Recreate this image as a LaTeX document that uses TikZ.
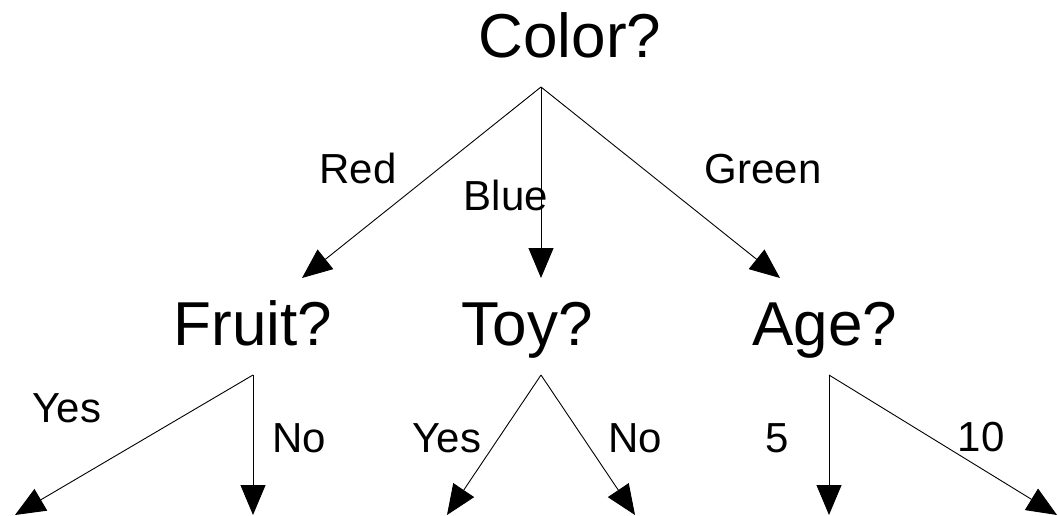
\documentclass[tikz,border=0pt]{standalone}
\usepackage{fontspec}
\setmainfont{Liberation Sans}
\usetikzlibrary{arrows.meta}
\begin{document}
\begin{tikzpicture}[x=1pt,y=-1pt,
  big/.style={anchor=base,inner sep=0pt,font=\fontsize{62}{70}\selectfont},
  lbl/.style={anchor=base,inner sep=0pt,font=\fontsize{42}{48}\selectfont},
  conn/.style={line width=0.9pt,-{Triangle[length=30pt,width=25pt]}}]
\useasboundingbox (0,0) rectangle (1058,516);
% question nodes
\node[big] (color) at (570,58) {Color?};
\node[big] (fruit) at (253,345) {Fruit?};
\node[big] (toy) at (527,345) {Toy?};
\node[big] (age) at (825,345) {Age?};
% labels
\node[lbl] (red) at (358,183) {Red};
\node[lbl] (blue) at (506,211) {Blue};
\node[lbl] (green) at (763,183) {Green};
\node[lbl] (yes1) at (67,422) {Yes};
\node[lbl] (no1) at (299,452) {No};
\node[lbl] (yes2) at (447,452) {Yes};
\node[lbl] (no2) at (635,452) {No};
\node[lbl] (five) at (777,452) {5};
\node[lbl] (ten) at (981,451) {10};
% connector ends
\coordinate (cS) at (541,87);
\coordinate (fT) at (302,278);
\coordinate (tT) at (541,278);
\coordinate (aT) at (780,278);
\coordinate (fS) at (253,375);
\coordinate (tS) at (541,375);
\coordinate (aS) at (829,375);
\coordinate (l1) at (15,515);
\coordinate (l2) at (253,515);
\coordinate (l3) at (447,515);
\coordinate (l4) at (635,515);
\coordinate (l5) at (829,515);
\coordinate (l6) at (1057,515);
% connectors
\draw[conn] (cS) -- (fT);
\draw[conn] (cS) -- (tT);
\draw[conn] (cS) -- (aT);
\draw[conn] (fS) -- (l1);
\draw[conn] (fS) -- (l2);
\draw[conn] (tS) -- (l3);
\draw[conn] (tS) -- (l4);
\draw[conn] (aS) -- (l5);
\draw[conn] (aS) -- (l6);
\end{tikzpicture}
\end{document}
